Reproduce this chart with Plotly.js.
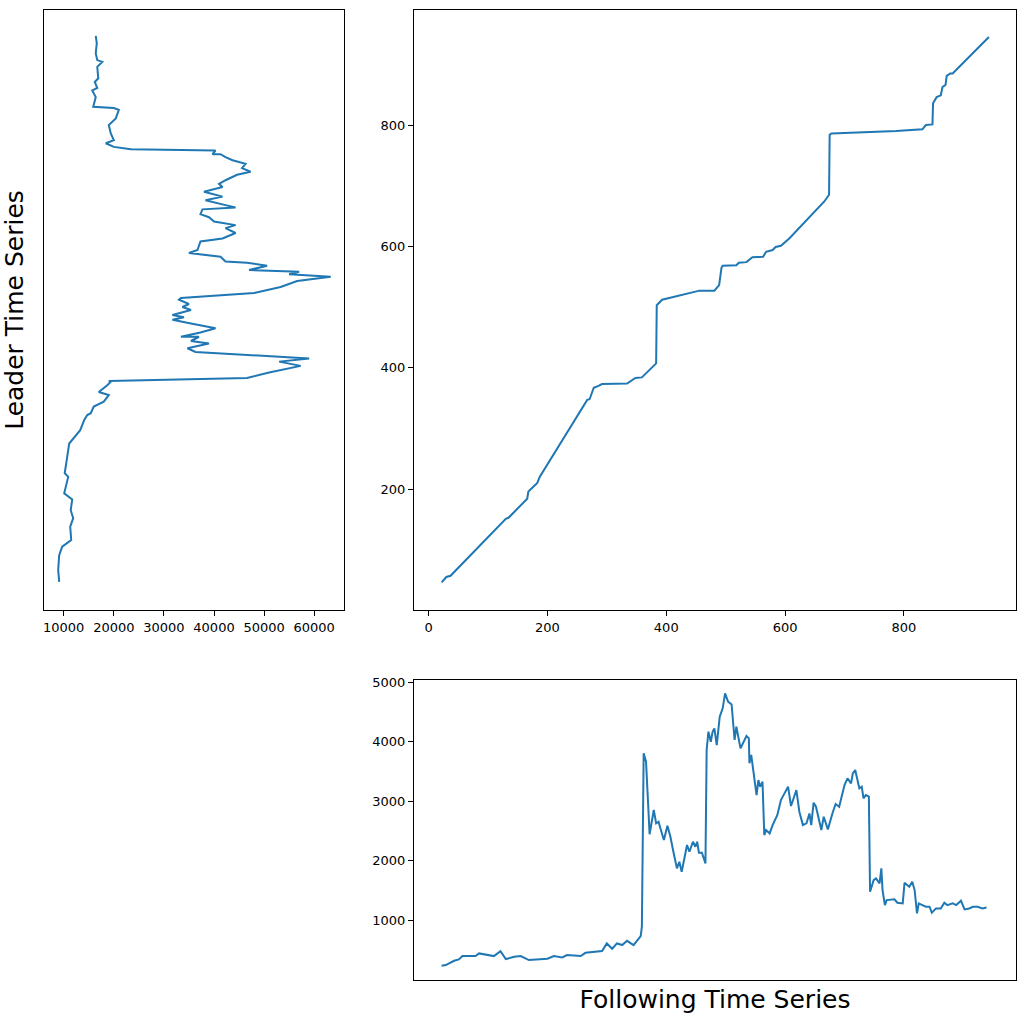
<!DOCTYPE html>
<html>
<head>
<meta charset="utf-8">
<script src="https://cdn.plot.ly/plotly-3.0.1.min.js"></script>
<style>html,body{margin:0;padding:0;background:#fff;}#chart{width:1024px;height:1024px;}</style>
</head>
<body>
<div id="chart"></div>
<script>
// Leader time series (index, value)
const leaderIdx = [947,935,918,907,904,896,877,871,861,857,846,833,830,828,825,811,800,786,775,770,764,760,758,752,752,747,742,736,729,723,718,709,703,698,690,682,676,668,664,661,
  653,648,641,635,630,622,613,608,594,589,583,575,573,568,561,558,554,550,543,533,523,515,512,505,500,495,487,483,479,473,465,458,451,451,444,440,432,426,423,420,415,410,403,392,383,378,
  377,371,360,355,344,336,325,322,314,297,284,275,253,226,220,193,183,165,152,138,116,105,91,67,47];
const leaderVal = [16400,16600,16400,16700,17700,16700,16900,16200,16700,15700,16400,16000,15900,20000,21000,20400,19000,19400,20000,18400,20000,23400,40300,39700,41300,42300,43700,46300,45600,47300,44600,42300,41000,41700,38000,41700,38300,42300,44300,37700,
  37300,39000,40000,44300,42300,44300,41700,37300,36700,35000,41300,42300,46600,50600,47000,57000,55000,63300,56600,53300,48000,33400,33000,35000,33700,35400,31700,34000,31700,35400,40300,37300,33400,37000,35400,39000,34700,36300,43000,49600,59000,53000,57300,51000,46600,19000,
  19400,18700,17000,19000,18000,16000,15400,14700,14100,13300,12100,11100,10700,10200,10900,10100,11700,11400,11900,11300,11500,9700,9100,8900,9100];

// Warping path (following index, leader index)
const pathFollow = [22,30,37,130,135,166,168,183,187,267,271,278,286,292,334,348,359,383,384,393,456,481,489,493,495,518,522,535,545,563,568,579,584,593,607,666,674,675,678,787,831,837,848,849,855,862,865,870,872,878,882,943];
const pathLeader = [46,55,57,151,153,184,196,210,220,347,348,367,370,373,374,383,384,407,503,512,527,527,536,565,568,569,573,574,582,583,591,594,599,601,613,674,685,784,786,790,793,800,801,836,846,849,863,866,881,885,885,945];

// Following time series (index, value)
const followIdx = [22,29,43,51,57,79,85,110,121,130,144,155,169,200,211,225,233,256,264,278,286,292,300,309,317,326,334,345,357,359,362,366,372,379,383,387,391,396,402,407,412,418,422,426,435,439,445,449,452,455,460,466,468,471,475,478,481,485,490,495,499,504,510,515,518,525,535,539,540,543,552,555,558,562,565,568,574,579,587,593,599,605,610,619,624,630,636,641,644,648,652,657,661,665,672,680,685,691,700,705,711,714,718,725,729,732,736,741,743,749,753,759,762,764,768,771,778,784,789,798,801,806,809,814,818,822,825,831,837,843,847,854,862,868,873,882,888,896,902,910,916,924,932,939];
const followVal = [232,244,316,339,395,395,440,395,479,345,383,395,328,350,395,373,412,395,450,467,484,479,608,518,608,580,652,580,731,888,3802,3661,2441,2849,2626,2652,2513,2345,2585,2400,2148,1869,1980,1812,2261,2148,2316,2232,2316,2131,2131,1953,3858,4165,3997,4165,4221,3941,4418,4558,4810,4670,4624,4026,4249,3885,4093,4054,3634,3774,3101,3353,3241,3325,2429,2513,2457,2597,2765,3017,3129,3241,2916,3185,2821,2597,2625,2792,2597,2972,2905,2652,2513,2737,2524,2804,2950,2905,3269,3381,3297,3465,3521,3213,3241,3045,3101,3073,1476,1672,1700,1617,1869,1504,1252,1336,1336,1348,1291,1280,1627,1588,1560,1644,1504,1113,1280,1252,1224,1224,1123,1196,1196,1291,1252,1280,1252,1324,1180,1196,1224,1224,1196,1212];

const leaderTicks = [10000,20000,30000,40000,50000,60000];
const pathXTicks = [0,200,400,600,800];
const pathYTicks = [200,400,600,800];
const followTicks = [1000,2000,3000,4000,5000];

const blue = '#1f77b4';
const traces = [
  {x: leaderVal, y: leaderIdx, xaxis: 'x', yaxis: 'y', mode: 'lines', line: {color: blue, width: 2}, hoverinfo: 'skip'},
  {x: pathFollow, y: pathLeader, xaxis: 'x2', yaxis: 'y2', mode: 'lines', line: {color: blue, width: 2}, hoverinfo: 'skip'},
  {x: followIdx, y: followVal, xaxis: 'x3', yaxis: 'y3', mode: 'lines', line: {color: blue, width: 2}, hoverinfo: 'skip'}
];

const tickFont = {family: 'DejaVu Sans', size: 13, color: '#000'};
const titleFont = {family: 'DejaVu Sans', size: 25, color: '#000'};
const base = {showgrid: false, zeroline: false, showline: true, mirror: true, linecolor: '#000', linewidth: 1,
  ticks: 'outside', ticklen: 5, tickwidth: 1, tickcolor: '#000', tickfont: tickFont};

const layout = {
  width: 1024, height: 1024, autosize: false, showlegend: false,
  margin: {l: 0, r: 0, t: 0, b: 0},
  paper_bgcolor: '#fff', plot_bgcolor: '#fff',
  font: {family: 'DejaVu Sans', color: '#000'},
  xaxis: Object.assign({}, base, {domain: [44/1024, 344/1024], anchor: 'y', range: [6068, 65948], tickmode: 'array', tickvals: leaderTicks, ticktext: leaderTicks.map(String)}),
  yaxis: Object.assign({}, base, {domain: [1-610/1024, 1-10/1024], anchor: 'x', range: [0.6, 989.6], ticks: '', showticklabels: false,
    title: {text: 'Leader Time Series', font: titleFont, standoff: 12}}),
  xaxis2: Object.assign({}, base, {domain: [414/1024, 1016/1024], anchor: 'y2', range: [-24.5, 988.6], tickmode: 'array', tickvals: pathXTicks, ticktext: pathXTicks.map(String)}),
  yaxis2: Object.assign({}, base, {domain: [1-610/1024, 1-10/1024], anchor: 'x2', range: [0.6, 989.6], tickmode: 'array', tickvals: pathYTicks, ticktext: pathYTicks.map(String)}),
  xaxis3: Object.assign({}, base, {domain: [414/1024, 1016/1024], anchor: 'y3', range: [-24.5, 988.6], ticks: '', showticklabels: false,
    title: {text: 'Following Time Series', font: titleFont, standoff: 10}}),
  yaxis3: Object.assign({}, base, {domain: [1-980/1024, 1-680/1024], anchor: 'x3', range: [-6.7, 5034], tickmode: 'array', tickvals: followTicks, ticktext: followTicks.map(String)})
};

Plotly.newPlot('chart', traces, layout, {staticPlot: true, displayModeBar: false});
</script>
</body>
</html>
